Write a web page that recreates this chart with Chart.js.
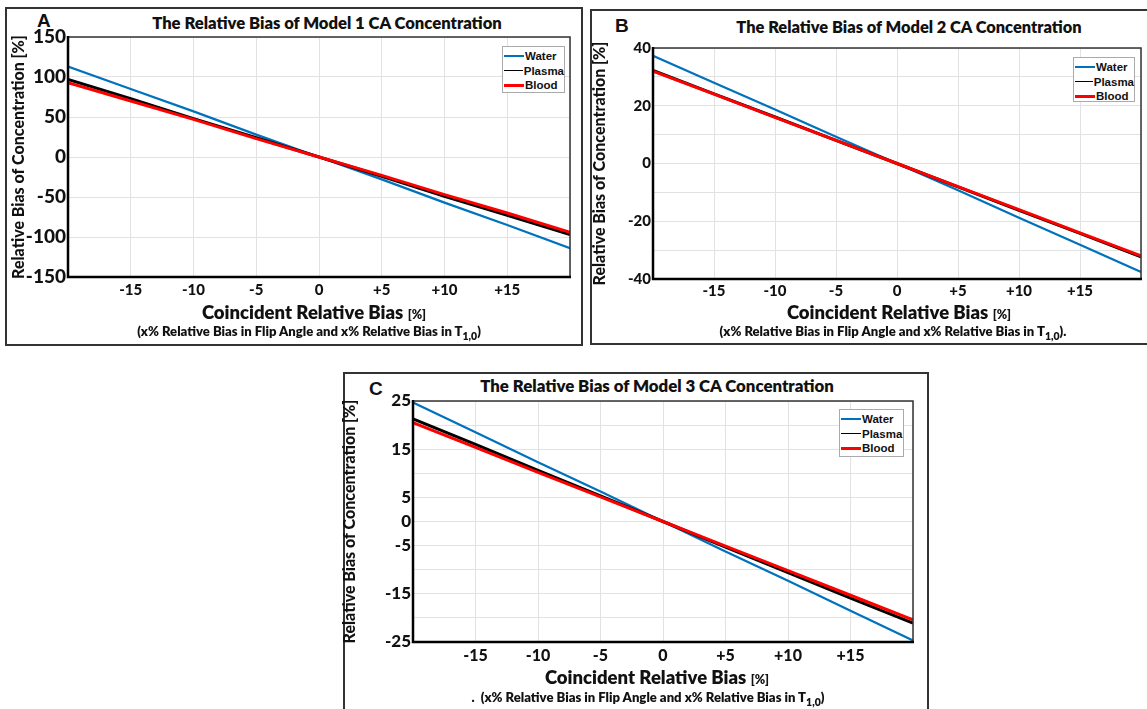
<!DOCTYPE html>
<html>
<head>
<meta charset="utf-8">
<title>Relative Bias of CA Concentration</title>
<script src="https://cdn.jsdelivr.net/npm/chart.js@4.4.1/dist/chart.umd.min.js"></script>
<style>
  body { margin: 0; background: #fff; width: 1147px; height: 709px; position: relative; overflow: hidden; font-family: Lato, "Open Sans", sans-serif; color: #111; }
  .frame { position: absolute; border: 2px solid #333; box-sizing: border-box; }
  .wrap { position: absolute; }
  .txt { position: absolute; white-space: nowrap; font-weight: 800; transform: translateX(-50%); }
  .letter { position: absolute; font-weight: bold; font-size: 19px; font-family: "Liberation Sans", Arial, sans-serif; }
  .pct { font-size: 12.5px; font-weight: 800; }
  .sub sub { font-size: 80%; vertical-align: -4px; }
  .legend { position: absolute; border: 1px solid #aaa; background: #fff; box-sizing: border-box; padding-top: 2px;
            font: bold 11.5px "Liberation Sans", Arial, sans-serif; }
  .legend div { height: 14.5px; line-height: 14.5px; display: flex; align-items: center; }
  .legend span.sw { display: inline-block; width: 20px; margin-left: 1px; margin-right: 1px; }
</style>
</head>
<body>

<div class="frame" style="left:5px;top:7px;width:578px;height:339px"></div>
<div class="frame" style="left:590px;top:9px;width:570px;height:336px"></div>
<div class="frame" style="left:343px;top:372px;width:586px;height:350px"></div>

<div class="letter" style="left:37px;top:10px">A</div>
<div class="letter" style="left:615px;top:15px">B</div>
<div class="letter" style="left:369px;top:378px">C</div>

<div class="txt" style="left:327px;top:13px;font-size:16.6px;line-height:20px">The Relative Bias of Model 1 CA Concentration</div>
<div class="txt" style="left:909px;top:17px;font-size:16.4px;line-height:20px">The Relative Bias of Model 2 CA Concentration</div>
<div class="txt" style="left:657px;top:376px;font-size:16.8px;line-height:20px">The Relative Bias of Model 3 CA Concentration</div>

<div class="wrap" style="left:6px;top:22px"><canvas id="chartA" width="574" height="288"></canvas></div>
<div class="wrap" style="left:590px;top:32px"><canvas id="chartB" width="555" height="278"></canvas></div>
<div class="wrap" style="left:340px;top:386px"><canvas id="chartC" width="581" height="282"></canvas></div>

<div class="txt" style="left:314px;top:300px;font-size:18.5px;line-height:24px">Coincident Relative Bias <span class="pct">[%]</span></div>
<div class="txt sub" style="left:309px;top:323px;font-size:13.1px;line-height:16px">(x% Relative Bias in Flip Angle and x% Relative Bias in T<sub>1,0</sub>)</div>

<div class="txt" style="left:899px;top:300px;font-size:18.5px;line-height:24px">Coincident Relative Bias <span class="pct">[%]</span></div>
<div class="txt sub" style="left:893px;top:323px;font-size:13.1px;line-height:16px">(x% Relative Bias in Flip Angle and x% Relative Bias in T<sub>1,0</sub>).</div>

<div class="txt" style="left:657px;top:665px;font-size:18.5px;line-height:24px">Coincident Relative Bias <span class="pct">[%]</span></div>
<div class="txt sub" style="left:648px;top:689px;font-size:13.1px;line-height:16px">.&nbsp; (x% Relative Bias in Flip Angle and x% Relative Bias in T<sub>1,0</sub>)</div>

<div class="legend" id="legA" style="left:502px;top:46px;width:63px;height:47px"></div>
<div class="legend" id="legB" style="left:1073px;top:57px;width:62px;height:45px"></div>
<div class="legend" id="legC" style="left:839px;top:409px;width:65px;height:48px"></div>

<script>
// x axis: coincident relative bias [%]
const xValues = [-20, -15, -10, -5, 0, 5, 10, 15, 20];
const xTickLabels = [-15, -10, -5, 0, 5, 10, 15];
const seriesNames = ['Water', 'Plasma', 'Blood'];
const seriesColors = ['rgb(0,114,189)', 'rgb(0,0,0)', 'rgb(255,0,0)'];

// model 1
const waterA  = [113, 85, 57, 28, 0, -28, -57, -85, -114];
const plasmaA = [97, 73, 48, 24, 0, -24, -49, -73, -97];
const bloodA  = [93, 70, 47, 23, 0, -23, -47, -70, -94];
const yTicksA = [-150, -100, -50, 0, 50, 100, 150];

// model 2
const waterB  = [37.3, 28, 18.7, 9.3, 0, -9.3, -18.8, -28.1, -37.6];
const plasmaB = [32.2, 24.1, 16.1, 8, 0, -8.1, -16.2, -24.2, -32.3];
const bloodB  = [32, 24, 16, 8, 0, -8, -16, -24, -32];
const yTicksB = [-40, -20, 0, 20, 40];

// model 3
const waterC  = [24.7, 18.5, 12.3, 6.2, 0, -6.2, -12.3, -18.5, -24.7];
const plasmaC = [21.3, 16, 10.6, 5.3, 0, -5.3, -10.6, -15.9, -21.1];
const bloodC  = [20.5, 15.4, 10.2, 5.1, 0, -5.1, -10.2, -15.3, -20.4];
const yTicksC = [-25, -15, -5, 0, 5, 15, 25];

// frame around the plot area (matlab box on)
const boxPlugin = {
    id: 'box',
    afterDatasetsDraw(chart) {
        const a = chart.chartArea;
        const ctx = chart.ctx;
        ctx.save();
        ctx.strokeStyle = '#333';
        ctx.lineWidth = 1.5;
        ctx.beginPath();
        ctx.moveTo(a.left, a.top);
        ctx.lineTo(a.right, a.top);
        ctx.lineTo(a.right, a.bottom);
        ctx.stroke();
        ctx.strokeStyle = '#000';
        ctx.lineWidth = 2.5;
        ctx.beginPath();
        ctx.moveTo(a.left, a.top - 1);
        ctx.lineTo(a.left, a.bottom);
        ctx.lineTo(a.right + 1, a.bottom);
        ctx.stroke();
        ctx.restore();
    }
};

function makeChart(id, series, yMin, yMax, yStep, yTicks, o) {
    const widths = [2.2, 3, 3];
    const datasets = series.map(function (vals, i) {
        return {
            label: seriesNames[i],
            data: vals.map(function (v, j) { return {x: xValues[j], y: v}; }),
            borderColor: seriesColors[i],
            backgroundColor: seriesColors[i],
            borderWidth: widths[i],
            pointRadius: 0,
            fill: false,
            order: 3 - i
        };
    });
    return new Chart(id, {
        type: 'line',
        data: {datasets: datasets},
        plugins: [boxPlugin],
        options: {
            responsive: false,
            animation: false,
            layout: {padding: {top: o.pt, right: o.pr, left: 0, bottom: 0}},
            plugins: {legend: {display: false}, tooltip: {enabled: false}},
            scales: {
                x: {
                    type: 'linear', min: -20, max: 20,
                    grid: {color: '#e2e2e2', drawTicks: false},
                    border: {display: false},
                    afterFit: function (s) { s.height = o.xh; },
                    ticks: {
                        stepSize: 5, autoSkip: false, maxRotation: 0, padding: o.xpad, color: '#111',
                        font: {family: 'Lato', weight: '900', size: o.xfs},
                        callback: function (v) { return xTickLabels.includes(v) ? (v > 0 ? '+' + v : String(v)) : ''; }
                    }
                },
                y: {
                    type: 'linear', min: yMin, max: yMax,
                    grid: {color: '#e2e2e2', drawTicks: false},
                    border: {display: false},
                    afterFit: function (s) { s.width = o.yw; },
                    title: {
                        display: true, text: 'Relative Bias of Concentration [%]', color: '#111',
                        font: {family: 'Lato', weight: '900', size: 16}, padding: {top: o.tpad, bottom: 0}
                    },
                    ticks: {
                        stepSize: yStep, autoSkip: false, padding: 2, color: '#111',
                        font: {family: 'Lato', weight: '900', size: o.yfs},
                        callback: function (v) { return yTicks.includes(v) ? String(v) : ''; }
                    }
                }
            }
        }
    });
}

function makeLegend(elId) {
    const el = document.getElementById(elId);
    const sw = [2, 1.5, 3];
    seriesNames.forEach(function (name, i) {
        const row = document.createElement('div');
        row.innerHTML = '<span class="sw" style="border-top:' + sw[i] + 'px solid ' + seriesColors[i] + '"></span>' + name;
        el.appendChild(row);
    });
}

makeChart('chartA', [waterA, plasmaA, bloodA], -150, 150, 50, yTicksA,
    {pt: 15, pr: 10, yw: 62, xh: 33, xpad: 4, xfs: 15, yfs: 19, tpad: 3});
makeChart('chartB', [waterB, plasmaB, bloodB], -40, 40, 10, yTicksB,
    {pt: 16, pr: 4, yw: 63, xh: 31, xpad: 3, xfs: 15, yfs: 15, tpad: 0});
makeChart('chartC', [waterC, plasmaC, bloodC], -25, 25, 5, yTicksC,
    {pt: 15, pr: 8, yw: 73, xh: 26, xpad: 4, xfs: 16, yfs: 17, tpad: 0});

makeLegend('legA');
makeLegend('legB');
makeLegend('legC');
</script>
</body>
</html>
